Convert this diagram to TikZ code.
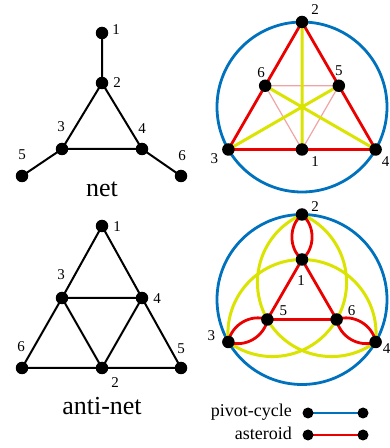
\documentclass[tikz,border=0pt]{standalone}
\usepackage{fontspec}
\setmainfont{Liberation Serif}
\usetikzlibrary{calc,backgrounds}
\definecolor{pblue}{RGB}{0,114,189}
\definecolor{ared}{RGB}{235,0,0}
\definecolor{yel}{RGB}{218,228,0}
\definecolor{pinkish}{RGB}{240,165,165}
\tikzset{
 x=1pt,y=1pt,
 dot/.style={circle,fill=black,inner sep=0pt,minimum size=12.5pt},
 sdot/.style={circle,fill=black,inner sep=0pt,minimum size=11pt},
 lab/.style n args={3}{label={[font=\fontsize{15}{15}\selectfont,xshift=#1pt,yshift=#2pt,inner sep=0pt]center:#3}},
 bl/.style={line width=2pt},
 cyc/.style={pblue,line width=2.8pt},
 ast/.style={ared,line width=2.8pt},
 yl/.style={yel,line width=3pt},
 pk/.style={pinkish,line width=1.2pt},
 title/.style={font=\fontsize{26}{26}\selectfont,anchor=base,inner sep=0pt},
 leg/.style={font=\fontsize{18}{18}\selectfont,anchor=base east,inner sep=0pt},
}
\begin{document}
\begin{tikzpicture}
\useasboundingbox (0,0) rectangle (390,448);
% ---------- net ----------
\node[dot,lab={14}{3}{1}] (n1) at (102,415) {};
\node[dot,lab={15}{0}{2}] (n2) at (102,365) {};
\node[dot,lab={-1}{22}{3}] (n3) at (62,299) {};
\node[dot,lab={0}{20}{4}] (n4) at (142,299) {};
\node[dot,lab={0}{21}{5}] (n5) at (22,272) {};
\node[dot,lab={1}{20}{6}] (n6) at (181,272) {};
\node[title] (netlbl) at (102,251) {net};
\begin{pgfonlayer}{background}
\draw[bl] (n1.center)--(n2.center)--(n3.center)--(n4.center)--(n2.center)
          (n3.center)--(n5.center) (n4.center)--(n6.center);
\end{pgfonlayer}
% ---------- anti-net ----------
\node[dot,lab={15}{-1}{1}] (a1) at (102,222) {};
\node[dot,lab={-1}{23}{3}] (a3) at (62,150) {};
\node[dot,lab={15}{-1}{4}] (a4) at (142,150) {};
\node[dot,lab={-1}{21}{6}] (a6) at (22,80) {};
\node[dot,lab={13}{-15}{2}] (a2) at (102,80) {};
\node[dot,lab={0}{19}{5}] (a5) at (181,80) {};
\node[title] (antilbl) at (102,33) {anti-net};
\begin{pgfonlayer}{background}
\draw[bl] (a1.center)--(a3.center)--(a6.center)--(a2.center)--(a5.center)--(a4.center)--(a1.center)
          (a3.center)--(a4.center)--(a2.center)--(a3.center);
\end{pgfonlayer}
% ---------- top right ----------
\coordinate (C1) at (302,341);
\node[dot,lab={13}{12}{2}] (t2) at ($(C1)+(90:85)$) {};
\node[dot,lab={-14}{-9}{3}] (t3) at ($(C1)+(210:85)$) {};
\node[dot,lab={10}{-12}{4}] (t4) at ($(C1)+(330:85)$) {};
\node[dot,lab={-4}{13}{6}] (t6) at ($(C1)+(150:42.5)$) {};
\node[dot,lab={0}{15}{5}] (t5) at ($(C1)+(30:42.5)$) {};
\node[dot,lab={13}{-12}{1}] (t1) at ($(C1)+(270:42.5)$) {};
\begin{pgfonlayer}{background}
\draw[cyc] (C1) circle[radius=85];
\draw[pk] (t6.center)--(t5.center)--(t1.center)--cycle;
\draw[yl] (t2.center)--(t1.center) (t3.center)--(t5.center) (t4.center)--(t6.center);
\draw[ast,line join=miter] (t2.center)--(t6.center)--(t3.center)--(t1.center)--(t4.center)--(t5.center)--cycle;
\end{pgfonlayer}
% ---------- bottom right ----------
\coordinate (C2) at (302,148.5);
\node[dot,lab={13}{8}{2}] (b2) at ($(C2)+(90:85)$) {};
\node[dot,lab={-17}{6}{3}] (b3) at ($(C2)+(210:85)$) {};
\node[dot,lab={11}{-7}{4}] (b4) at ($(C2)+(330:85)$) {};
\node[dot,lab={-1}{-21}{1}] (b1) at ($(C2)+(90:40)$) {};
\node[dot,lab={16}{9}{5}] (b5) at ($(C2)+(210:40)$) {};
\node[dot,lab={15}{9}{6}] (b6) at ($(C2)+(330:40)$) {};
\begin{pgfonlayer}{background}
\draw[cyc] (C2) circle[radius=85];
\draw[yl] (b3.center) arc[start angle=186.52,end angle=-6.52,radius=74.09];
\draw[yl] (b4.center) arc[start angle=306.52,end angle=113.48,radius=74.09];
\draw[yl] (b2.center) arc[start angle=66.52,end angle=-126.52,radius=74.09];
\draw[ast] (b1.center)--(b5.center)--(b6.center)--cycle;
\draw[ast] (b2.center) to[bend left=50] (b1.center) to[bend left=50] (b2.center);
\draw[ast] (b3.center) to[bend left=50] (b5.center) to[bend left=50] (b3.center);
\draw[ast] (b4.center) to[bend left=50] (b6.center) to[bend left=50] (b4.center);
\end{pgfonlayer}
% ---------- legend ----------
\node[leg] (lg1) at (292,31) {pivot-cycle};
\node[leg] (lg2) at (292,9) {asteroid};
\node[sdot] (p1) at (308,35) {};
\node[sdot] (p2) at (363,35) {};
\node[sdot] (q1) at (308,13) {};
\node[sdot] (q2) at (363,13) {};
\begin{pgfonlayer}{background}
\draw[cyc] (p1.center)--(p2.center);
\draw[ast] (q1.center)--(q2.center);
\end{pgfonlayer}
\end{tikzpicture}
\end{document}
